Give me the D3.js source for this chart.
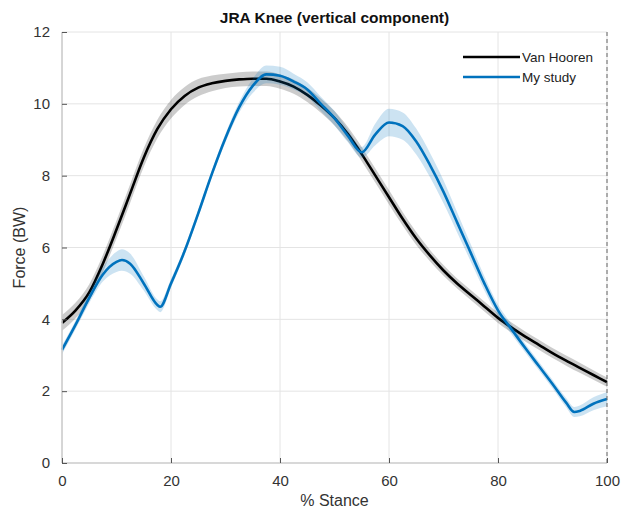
<!DOCTYPE html>
<html>
<head>
<meta charset="utf-8">
<script src="https://cdn.jsdelivr.net/npm/d3@7"></script>
<style>
  html, body { margin: 0; padding: 0; background: #fff; }
  svg { display: block; font-family: "Liberation Sans", Arial, Helvetica, sans-serif; }
</style>
</head>
<body>
<svg id="chart" width="627" height="513"></svg>
<script>
// Knee joint reaction force, vertical component, over the stance phase
const xTicks = [0, 20, 40, 60, 80, 100];
const yTicks = [0, 2, 4, 6, 8, 10, 12];

const vanHoorenPct  = [0, 2.5, 5, 7.5, 10, 12.5, 15, 17.5, 20, 22.5, 25, 27.5, 30, 32.5, 35, 37.5, 40, 42.5, 45, 47.5, 50, 52.5, 55, 57.5, 60, 62.5, 65, 67.5, 70, 72.5, 75, 77.5, 80, 82.5, 85, 87.5, 90, 92.5, 95, 97.5, 100];
const vanHoorenMean = [3.9, 4.25, 4.75, 5.55, 6.5, 7.5, 8.5, 9.3, 9.85, 10.22, 10.45, 10.57, 10.64, 10.68, 10.7, 10.7, 10.62, 10.48, 10.25, 9.95, 9.6, 9.15, 8.6, 8.0, 7.4, 6.8, 6.25, 5.78, 5.36, 5.0, 4.68, 4.36, 4.04, 3.77, 3.52, 3.29, 3.06, 2.85, 2.65, 2.45, 2.25];
const vanHoorenSD   = [0.22, 0.22, 0.23, 0.24, 0.25, 0.26, 0.26, 0.26, 0.26, 0.25, 0.24, 0.22, 0.2, 0.2, 0.2, 0.2, 0.2, 0.2, 0.2, 0.2, 0.2, 0.2, 0.2, 0.2, 0.2, 0.19, 0.18, 0.16, 0.15, 0.14, 0.14, 0.14, 0.14, 0.14, 0.14, 0.14, 0.14, 0.14, 0.14, 0.13, 0.13];

const myStudyPct  = [0, 2.5, 5, 7.5, 10, 11, 12.5, 15, 17.5, 18, 20, 22.5, 25, 27.5, 30, 32.5, 35, 37.5, 40, 42.5, 45, 47.5, 50, 52.5, 55, 57.5, 60, 62.5, 65, 67.5, 70, 72.5, 75, 77.5, 80, 82.5, 85, 87.5, 90, 92.5, 94, 95, 97.5, 100];
const myStudyMean = [3.15, 3.85, 4.6, 5.25, 5.6, 5.65, 5.55, 5.0, 4.4, 4.35, 5.0, 5.9, 6.95, 8.05, 9.05, 9.9, 10.5, 10.82, 10.78, 10.62, 10.4, 10.0, 9.6, 9.1, 8.65, 9.15, 9.48, 9.38, 8.95, 8.3, 7.55, 6.7, 5.85, 5.0, 4.25, 3.72, 3.2, 2.7, 2.2, 1.68, 1.42, 1.45, 1.65, 1.78];
const myStudySD   = [0.12, 0.12, 0.15, 0.2, 0.28, 0.3, 0.28, 0.2, 0.15, 0.15, 0.12, 0.1, 0.1, 0.1, 0.12, 0.15, 0.2, 0.25, 0.25, 0.22, 0.2, 0.2, 0.2, 0.18, 0.15, 0.3, 0.38, 0.38, 0.36, 0.34, 0.32, 0.28, 0.24, 0.2, 0.16, 0.14, 0.12, 0.12, 0.12, 0.13, 0.14, 0.15, 0.18, 0.2];

const seriesNames = ["Van Hooren", "My study"];
const lineColors  = ["#000000", "#0072BD"];
const bandColors  = ["rgba(0,0,0,0.2)", "rgba(0,114,189,0.2)"];

const svg = d3.select("#chart");
const margin = { left: 62, right: 20, top: 32, bottom: 50 };
const W = 627, H = 513;

const x = d3.scaleLinear().domain([0, 100]).range([margin.left, W - margin.right]);
const y = d3.scaleLinear().domain([0, 12]).range([H - margin.bottom, margin.top]);

// grid
const grid = svg.append("g");
grid.selectAll("line.gx").data(xTicks).join("line")
  .attr("x1", d => x(d)).attr("x2", d => x(d))
  .attr("y1", y(0)).attr("y2", y(12))
  .attr("stroke", "#e4e4e4").attr("stroke-width", 1);
grid.selectAll("line.gy").data(yTicks).join("line")
  .attr("x1", x(0)).attr("x2", x(100))
  .attr("y1", d => y(d)).attr("y2", d => y(d))
  .attr("stroke", "#e4e4e4").attr("stroke-width", 1);

// series: shaded band (mean ± SD) under the mean line
const series = [
  { pct: vanHoorenPct, mean: vanHoorenMean, sd: vanHoorenSD },
  { pct: myStudyPct, mean: myStudyMean, sd: myStudySD }
];

const curve = d3.curveMonotoneX;
series.forEach((s, i) => {
  const pts = s.pct.map((p, k) => ({ p, m: s.mean[k], sd: s.sd[k] }));
  const area = d3.area().curve(curve)
    .x(d => x(d.p)).y0(d => y(d.m - d.sd)).y1(d => y(d.m + d.sd));
  const line = d3.line().curve(curve).x(d => x(d.p)).y(d => y(d.m));
  svg.append("path").datum(pts).attr("d", area)
    .attr("fill", bandColors[i]).attr("stroke", "none");
  svg.append("path").datum(pts).attr("d", line)
    .attr("fill", "none").attr("stroke", lineColors[i])
    .attr("stroke-width", 2.6).attr("stroke-linejoin", "round");
});

// axes (light axis lines, inward ticks)
const axisColor = "#cfcfcf";
svg.append("line").attr("x1", x(0)).attr("x2", x(0)).attr("y1", y(0)).attr("y2", y(12))
  .attr("stroke", axisColor).attr("stroke-width", 1.6);
svg.append("line").attr("x1", x(0)).attr("x2", x(100)).attr("y1", y(0)).attr("y2", y(0))
  .attr("stroke", axisColor).attr("stroke-width", 1.6);
svg.append("line").attr("x1", x(100)).attr("x2", x(100)).attr("y1", y(0)).attr("y2", y(12))
  .attr("stroke", "#666").attr("stroke-width", 1).attr("stroke-dasharray", "4,3");

const xAxis = d3.axisBottom(x).tickValues(xTicks).tickSize(-5).tickPadding(12).tickFormat(d3.format("d"));
const gx = svg.append("g").attr("transform", `translate(0,${y(0)})`).call(xAxis);
const yAxis = d3.axisLeft(y).tickValues(yTicks).tickSize(-5).tickPadding(12).tickFormat(d3.format("d"));
const gy = svg.append("g").attr("transform", `translate(${x(0)},0)`).call(yAxis);
[gx, gy].forEach(g => {
  g.select(".domain").remove();
  g.selectAll(".tick line").attr("stroke", "#555").attr("stroke-width", 1);
  g.selectAll(".tick text").attr("fill", "#333").style("font-size", "15px")
    .style("font-family", "'Liberation Sans', Arial, sans-serif");
});
gx.selectAll(".tick text").attr("dy", "0.71em");

// titles
svg.append("text").attr("x", x(50)).attr("y", 23)
  .attr("text-anchor", "middle").attr("font-weight", "bold").attr("font-size", 15.5)
  .attr("fill", "#111").text("JRA Knee (vertical component)");
svg.append("text").attr("x", x(50)).attr("y", 506)
  .attr("text-anchor", "middle").attr("font-size", 16).attr("fill", "#333").text("% Stance");
svg.append("text").attr("transform", `translate(25,${y(6)}) rotate(-90)`)
  .attr("text-anchor", "middle").attr("font-size", 16).attr("fill", "#333").text("Force (BW)");

// legend
const legend = svg.append("g").attr("transform", "translate(463,57)");
seriesNames.forEach((name, i) => {
  const g = legend.append("g").attr("transform", `translate(0,${i * 20})`);
  g.append("line").attr("x1", 0).attr("x2", 57).attr("y1", 0).attr("y2", 0)
    .attr("stroke", lineColors[i]).attr("stroke-width", 2.6);
  g.append("text").attr("x", 59).attr("y", 5).attr("font-size", 13.5).attr("fill", "#222").text(name);
});
</script>
</body>
</html>
